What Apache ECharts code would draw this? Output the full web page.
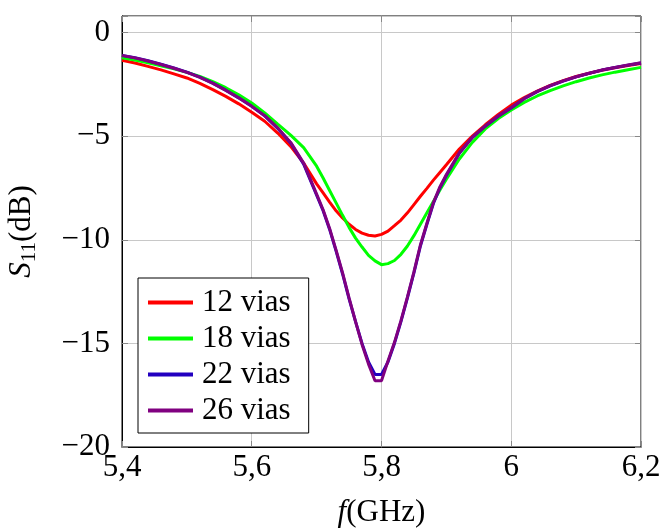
<!DOCTYPE html>
<html>
<head>
<meta charset="utf-8">
<script src="https://cdn.jsdelivr.net/npm/echarts@6/dist/echarts.min.js"></script>
<style>
html,body{margin:0;padding:0;background:#fff;}
#chart{width:662px;height:528px;}
</style>
</head>
<body>
<div id="chart"></div>
<script>
const freq = [5.40,5.42,5.44,5.46,5.48,5.50,5.52,5.54,5.56,5.58,5.60,5.62,5.64,5.66,5.68,
  5.70,5.71,5.72,5.73,5.74,5.75,5.76,5.77,5.78,5.79,5.80,5.81,5.82,5.83,5.84,5.85,5.86,5.87,5.88,5.89,5.90,
  5.92,5.94,5.96,5.98,6.00,6.02,6.04,6.06,6.08,6.10,6.12,6.14,6.16,6.18,6.20];

const vias12 = [-1.34,-1.47,-1.63,-1.80,-1.99,-2.19,-2.45,-2.75,-3.08,-3.44,-3.85,-4.28,-4.85,-5.49,-6.30,
  -7.30,-7.74,-8.18,-8.60,-8.95,-9.25,-9.50,-9.68,-9.78,-9.82,-9.74,-9.58,-9.32,-9.05,-8.70,-8.30,-7.90,-7.52,-7.12,-6.75,-6.38,
  -5.62,-5.00,-4.45,-3.95,-3.50,-3.14,-2.82,-2.55,-2.32,-2.12,-1.96,-1.82,-1.70,-1.59,-1.49];

const vias18 = [-1.22,-1.33,-1.46,-1.60,-1.75,-1.92,-2.12,-2.37,-2.66,-3.00,-3.40,-3.88,-4.42,-4.95,-5.55,
  -6.45,-7.02,-7.62,-8.22,-8.82,-9.40,-9.92,-10.35,-10.75,-11.02,-11.20,-11.15,-11.00,-10.70,-10.30,-9.80,-9.25,-8.70,-8.15,-7.60,-7.08,
  -6.10,-5.30,-4.65,-4.15,-3.74,-3.37,-3.06,-2.80,-2.57,-2.37,-2.19,-2.04,-1.91,-1.79,-1.68];

const vias22 = [-1.10,-1.21,-1.36,-1.53,-1.71,-1.91,-2.15,-2.44,-2.78,-3.15,-3.56,-4.02,-4.62,-5.33,-6.35,
  -7.85,-8.60,-9.50,-10.55,-11.65,-12.85,-13.95,-15.00,-15.90,-16.50,-16.50,-15.90,-15.00,-13.95,-12.80,-11.60,-10.30,-9.25,-8.25,-7.50,-6.90,
  -5.82,-5.07,-4.52,-4.04,-3.64,-3.19,-2.85,-2.57,-2.34,-2.14,-1.97,-1.81,-1.69,-1.57,-1.47];

const vias26 = [-1.11,-1.22,-1.37,-1.54,-1.72,-1.92,-2.16,-2.45,-2.79,-3.16,-3.56,-4.01,-4.60,-5.30,-6.30,
  -7.80,-8.55,-9.45,-10.50,-11.60,-12.80,-13.95,-15.05,-16.00,-16.80,-16.80,-15.85,-14.95,-13.90,-12.75,-11.55,-10.25,-9.20,-8.20,-7.45,-6.85,
  -5.80,-5.05,-4.50,-4.02,-3.62,-3.18,-2.84,-2.56,-2.33,-2.13,-1.96,-1.80,-1.68,-1.56,-1.46];

const seriesNames = ['12 vias','18 vias','22 vias','26 vias'];
const seriesColors = ['#ff0000','#00ff00','#2200c0','#800080'];
const xTicks = [5.4, 5.6, 5.8, 6.0, 6.2];
const yTicks = [-20, -15, -10, -5, 0];

const FONT = '"Liberation Serif", "DejaVu Serif", serif';
const FS = 31;

function pairs(vals){ return freq.map((f,i)=>[f, vals[i]]); }
const allVals = [vias12, vias18, vias22, vias26];

const chart = echarts.init(document.getElementById('chart'), null, {renderer:'canvas'});

function fmtX(v){
  const r = Math.round(v*10)/10;
  if (!xTicks.some(t => Math.abs(t - r) < 1e-6) || Math.abs(v - r) > 1e-6) return '';
  return String(r).replace('.', ',');
}
function fmtY(v){
  const r = Math.round(v);
  if (Math.abs(v - r) > 1e-6 || !yTicks.includes(r)) return '';
  return r < 0 ? '\u2212' + Math.abs(r) : String(r);
}

const gridLine = {show:true, lineStyle:{color:'#c8c8c8', width:1}};
const tick = {show:true, inside:true, length:6, lineStyle:{color:'#888', width:1}};

chart.setOption({
  animation:false,
  backgroundColor:'#fff',
  grid:{left:122, right:21, top:16, bottom:81, containLabel:false, outerBoundsMode:'none',
        show:true, borderColor:'#000', borderWidth:1, backgroundColor:'transparent'},
  xAxis:[{
    type:'value', min:5.4, max:6.2, interval:0.2, position:'bottom',
    axisLine:{show:true, onZero:false, lineStyle:{color:'#000', width:1}},
    axisTick:tick, splitLine:gridLine,
    axisLabel:{formatter:fmtX, color:'#000', fontFamily:FONT, fontSize:FS, margin:5, showMinLabel:true, showMaxLabel:true, hideOverlap:false},
    name:'{i|f}{n|(GHz)}', nameLocation:'middle', nameGap:50,
    nameTextStyle:{rich:{i:{fontFamily:FONT, fontSize:FS, fontStyle:'italic', color:'#000'}, n:{fontFamily:FONT, fontSize:FS, color:'#000'}}}
  },{
    type:'value', min:5.4, max:6.2, interval:0.2, position:'top',
    axisLine:{show:false, onZero:false}, axisTick:tick, axisLabel:{show:false}, splitLine:{show:false}
  }],
  yAxis:[{
    type:'value', min:-20, max:0.8, interval:5, position:'left',
    axisLine:{show:true, onZero:false, lineStyle:{color:'#000', width:1}},
    axisTick:tick, splitLine:gridLine,
    axisLabel:{formatter:fmtY, color:'#000', fontFamily:FONT, fontSize:FS, margin:12},
    name:'{s|S}{sub|11}{n|(dB)}', nameLocation:'middle', nameGap:82, nameRotate:90,
    nameTextStyle:{rich:{
      s:{fontFamily:FONT, fontSize:FS, fontStyle:'italic', color:'#000', lineHeight:36, verticalAlign:'middle'},
      sub:{fontFamily:FONT, fontSize:21, color:'#000', lineHeight:21, verticalAlign:'bottom'},
      n:{fontFamily:FONT, fontSize:FS, color:'#000', lineHeight:36, verticalAlign:'middle'}
    }}
  },{
    type:'value', min:-20, max:0.8, interval:5, position:'right',
    axisLine:{show:false, onZero:false}, axisTick:tick, axisLabel:{show:false}, splitLine:{show:false}
  }],
  legend:{
    left:138, top:278, orient:'vertical',
    backgroundColor:'#fff', borderColor:'#000', borderWidth:1,
    padding:[9,18,7,10], itemGap:5, itemWidth:45, itemHeight:4, icon:'rect',
    textStyle:{fontFamily:FONT, fontSize:FS, color:'#000', lineHeight:31, padding:[0,0,0,4]},
    data:seriesNames
  },
  series: seriesNames.map((n,i)=>({
    name:n, type:'line', data:pairs(allVals[i]), showSymbol:false, symbol:'none',
    lineStyle:{color:seriesColors[i], width:3}, itemStyle:{color:seriesColors[i]},
    z:2+i
  }))
});
</script>
</body>
</html>
